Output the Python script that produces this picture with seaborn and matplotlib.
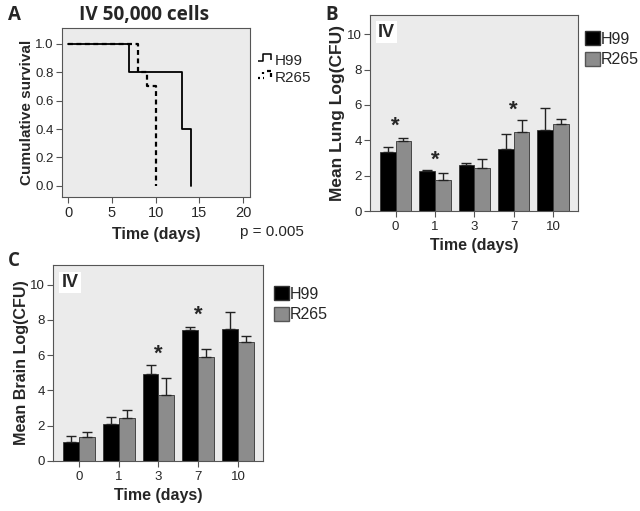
import numpy as np
import pandas as pd
import matplotlib
matplotlib.use("Agg")
import matplotlib.pyplot as plt
import seaborn as sns
from matplotlib.lines import Line2D
from matplotlib.patches import Patch
from matplotlib.path import Path

# survival (panel A) - step points
h99_time = [0, 7, 13, 14]
h99_surv = [1.0, 0.8, 0.4, 0.0]
r265_time = [0, 8, 9, 10]
r265_surv = [1.0, 0.8, 0.7, 0.0]

days = ["0", "1", "3", "7", "10"]
strains = ["H99", "R265"]

# lung CFU (panel B)
lung_h99 = [3.36, 2.26, 2.58, 3.49, 4.57]
lung_h99_err = [0.24, 0.04, 0.11, 0.87, 1.24]
lung_r265 = [3.98, 1.75, 2.41, 4.48, 4.93]
lung_r265_err = [0.18, 0.38, 0.51, 0.66, 0.29]
lung_stars = {0: 4.78, 1: 2.9, 3: 5.7}

# brain CFU (panel C)
brain_h99 = [1.08, 2.09, 4.93, 7.40, 7.51]
brain_h99_err = [0.32, 0.38, 0.53, 0.17, 0.95]
brain_r265 = [1.33, 2.41, 3.74, 5.92, 6.72]
brain_r265_err = [0.30, 0.46, 0.98, 0.44, 0.38]
brain_stars = {2: 6.07, 3: 8.25}

sns.set_style("white")
plt.rcParams["font.family"] = ["Liberation Sans", "DejaVu Sans"]

BG = "#ebebeb"
GRAY = "#8c8c8c"
SPINE = "#555555"
TITLE_FONT = ["Open Sans", "DejaVu Sans"]

fig = plt.figure(figsize=(6.4, 5.11), dpi=100)


def style_axes(ax, xsize=9, ysize=9):
    ax.set_facecolor(BG)
    for s in ax.spines.values():
        s.set_color(SPINE)
        s.set_linewidth(0.8)
    ax.tick_params(axis="both", direction="out", length=4, width=0.8,
                   color=SPINE, pad=2)
    ax.tick_params(axis="x", bottom=True, labelsize=xsize)
    ax.tick_params(axis="y", left=True, labelsize=ysize)


# ---- panel A
axA = fig.add_axes([0.097, 0.614, 0.294, 0.331])
surv = pd.DataFrame({
    "time": h99_time + r265_time,
    "surv": h99_surv + r265_surv,
    "strain": ["H99"] * len(h99_time) + ["R265"] * len(r265_time),
})
sns.lineplot(data=surv[surv.strain == "H99"], x="time", y="surv", color="black",
             drawstyle="steps-post", linewidth=1.3, ax=axA)
sns.lineplot(data=surv[surv.strain == "R265"], x="time", y="surv", color="black",
             drawstyle="steps-post", linewidth=1.6, linestyle=(0, (2.2, 1.6)), ax=axA)
axA.set_xlim(-0.7, 20.8)
axA.set_ylim(-0.08, 1.11)
axA.set_xticks([0, 5, 10, 15, 20])
axA.set_yticks([0.0, 0.2, 0.4, 0.6, 0.8, 1.0])
axA.set_yticklabels(["0.0", "0.2", "0.4", "0.6", "0.8", "1.0"])
style_axes(axA, xsize=10.5, ysize=9.5)
axA.set_xlabel("Time (days)", fontsize=11.5, fontweight="bold", labelpad=5)
axA.set_ylabel("Cumulative survival", fontsize=11, fontweight="bold", labelpad=1)

# little step glyphs for the survival legend
step_solid = Path([(-0.9, -0.2), (-0.3, -0.2), (-0.3, 0.5), (0.5, 0.5), (0.5, -0.1)])
step_dash = Path([(-0.9, -0.2), (-0.6, -0.2), (-0.35, -0.2), (-0.25, -0.2),
                  (-0.3, 0.25), (-0.3, 0.45), (0.1, 0.5), (0.5, 0.5), (0.5, 0.3), (0.5, -0.1)],
                 [Path.MOVETO, Path.LINETO, Path.MOVETO, Path.LINETO,
                  Path.MOVETO, Path.LINETO, Path.MOVETO, Path.LINETO,
                  Path.MOVETO, Path.LINETO])
fig.legend(handles=[Line2D([], [], ls="none", marker=step_solid, markersize=12,
                           mfc="none", mec="black", mew=1.1),
                    Line2D([], [], ls="none", marker=step_dash, markersize=12,
                           mfc="none", mec="black", mew=1.6)],
           labels=strains, loc="upper left", bbox_to_anchor=(0.404, 0.895),
           frameon=False, handlelength=1.0, handletextpad=0.05, fontsize=11,
           labelspacing=0.2, borderaxespad=0, borderpad=0)
fig.text(0.375, 0.546, "p = 0.005", fontsize=11, ha="left", va="center")
fig.text(0.225, 0.97, "IV 50,000 cells", fontsize=13.7, fontweight="bold",
         family=TITLE_FONT, ha="center", va="center")
fig.text(0.012, 0.97, "A", fontsize=13.5, fontweight="bold",
         family=TITLE_FONT, ha="left", va="center")


def cfu_panel(ax, h99, h99_err, r265, r265_err, stars, ylabel, ylsize, leg_anchor):
    df = pd.DataFrame({
        "day": days * 2,
        "value": h99 + r265,
        "strain": ["H99"] * len(days) + ["R265"] * len(days),
    })
    sns.barplot(data=df, x="day", y="value", hue="strain", order=days,
                hue_order=strains, palette=["black", GRAY], width=0.8,
                edgecolor="#333333", linewidth=0.6, errorbar=None,
                legend=False, ax=ax)
    for cont, err in zip(ax.containers, [h99_err, r265_err]):
        xs = [b.get_x() + b.get_width() / 2 for b in cont]
        ys = [b.get_height() for b in cont]
        ax.errorbar(xs, ys, yerr=[np.zeros(len(err)), err], fmt="none",
                    ecolor="#222222", elinewidth=1.0, capsize=3.5, capthick=1.0)
    for i, y in stars.items():
        ax.text(i, y, "*", fontsize=16, fontweight="bold", ha="center",
                va="center")
    ax.set_xlim(-0.65, 4.63)
    ax.set_ylim(0, 11.1)
    ax.set_yticks([0, 2, 4, 6, 8, 10])
    style_axes(ax, xsize=9.5, ysize=9.5)
    ax.tick_params(axis="x", length=4, pad=3)
    ax.set_xlabel("Time (days)", fontsize=11.5, fontweight="bold", labelpad=4)
    ax.set_ylabel(ylabel, fontsize=ylsize, fontweight="bold", labelpad=1)
    ax.text(0.04, 0.955, "IV", transform=ax.transAxes, fontsize=13,
            fontweight="bold", ha="left", va="top",
            bbox=dict(boxstyle="square,pad=0.12", fc="white", ec="none"))
    fig.legend(handles=[Patch(fc="black", ec="#333333"), Patch(fc=GRAY, ec="#555555")],
               labels=strains, loc="upper left", bbox_to_anchor=leg_anchor,
               frameon=False, handlelength=0.95, handleheight=1.0,
               handletextpad=0.05, fontsize=11.5, labelspacing=0.3,
               borderaxespad=0, borderpad=0)


# ---- panel B
axB = fig.add_axes([0.578, 0.587, 0.325, 0.384])
cfu_panel(axB, lung_h99, lung_h99_err, lung_r265, lung_r265_err, lung_stars,
          "Mean Lung Log(CFU)", 12.5, (0.914, 0.939))
fig.text(0.508, 0.97, "B", fontsize=13.5, fontweight="bold",
         family=TITLE_FONT, ha="left", va="center")

# ---- panel C
axC = fig.add_axes([0.083, 0.098, 0.328, 0.383])
cfu_panel(axC, brain_h99, brain_h99_err, brain_r265, brain_r265_err, brain_stars,
          "Mean Brain Log(CFU)", 11.6, (0.428, 0.44))
fig.text(0.012, 0.49, "C", fontsize=13.5, fontweight="bold",
         family=TITLE_FONT, ha="left", va="center")

fig.savefig("out.png", dpi=100, facecolor="white")
